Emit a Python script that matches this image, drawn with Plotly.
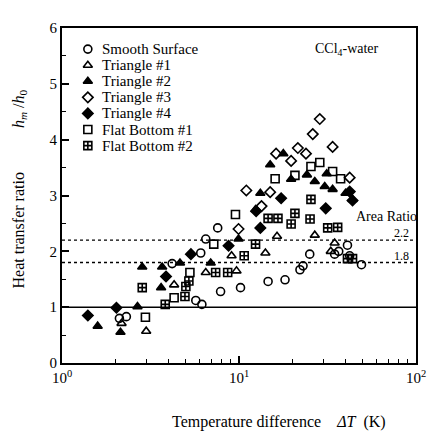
import plotly.graph_objects as go

# ---- data ----
smooth_x = [2.11, 2.31, 5.70, 6.17, 4.19, 6.08, 6.49, 7.58, 7.87, 10.2, 14.6, 18.2, 22.1, 23.0, 25.1, 34.7, 36.6, 41.0, 42.2, 49.2]
smooth_y = [0.80, 0.83, 1.12, 1.05, 1.78, 1.97, 2.22, 2.42, 1.28, 1.35, 1.46, 1.49, 1.67, 1.74, 1.95, 1.95, 2.00, 2.11, 1.92, 1.76]

tri1_x = [2.17, 2.99, 4.30, 6.49, 9.08, 9.68, 14.1, 16.4, 26.8, 34.7, 33.0]
tri1_y = [0.71, 0.57, 1.40, 1.62, 1.92, 1.65, 1.97, 2.27, 2.29, 2.15, 2.00]

tri2_x = [1.59, 2.14, 2.67, 3.63, 2.84, 3.68, 4.64, 6.92, 9.94, 12.4, 13.2, 15.0, 17.8, 19.7, 24.2, 26.8, 30.5, 33.8, 31.3, 40.0, 43.8]
tri2_y = [0.66, 0.55, 1.01, 1.35, 1.72, 1.72, 1.79, 1.79, 2.22, 2.75, 3.04, 3.55, 3.75, 3.29, 3.37, 3.25, 3.16, 3.11, 3.39, 3.04, 2.93]

tri3_x = [28.6, 26.1, 33.8, 21.5, 23.9, 19.7, 16.2, 11.0, 15.0, 13.4, 42.2, 9.94]
tri3_y = [4.37, 4.10, 3.87, 3.85, 3.75, 3.62, 3.75, 3.09, 3.06, 2.81, 3.32, 2.40]

tri4_x = [1.40, 2.03, 3.87, 5.35, 8.73, 13.2, 12.5, 17.3, 30.9, 42.2, 43.8]
tri4_y = [0.85, 0.99, 1.55, 1.95, 2.10, 2.42, 2.72, 2.95, 2.77, 3.07, 2.91]

fb1_x = [2.96, 4.30, 5.28, 7.20, 9.55, 16.0, 20.7, 25.5, 28.6, 33.8, 37.5]
fb1_y = [0.82, 1.17, 1.62, 2.13, 2.66, 3.30, 3.36, 3.52, 3.59, 3.43, 3.30]

fb2_x = [2.84, 3.83, 4.95, 5.01, 5.21, 7.38, 8.63, 10.7, 12.4, 14.6, 16.6, 20.7, 25.5, 19.7, 25.2, 31.7, 36.1, 41.0, 43.8]
fb2_y = [1.35, 1.05, 1.19, 1.37, 1.47, 1.62, 1.62, 1.92, 2.13, 2.59, 2.59, 2.68, 2.93, 2.49, 2.58, 2.42, 2.43, 1.87, 1.87]

series_names = ["Smooth Surface", "Triangle #1", "Triangle #2", "Triangle #3",
                "Triangle #4", "Flat Bottom #1", "Flat Bottom #2"]
series_symbols = ["circle-open", "triangle-up-open", "triangle-up", "diamond-open",
                  "diamond", "square-open", "square-cross-open"]
series_data = [(smooth_x, smooth_y), (tri1_x, tri1_y), (tri2_x, tri2_y), (tri3_x, tri3_y),
               (tri4_x, tri4_y), (fb1_x, fb1_y), (fb2_x, fb2_y)]

area_ratios = [2.2, 1.8]
x_tickvals = [1, 10, 100]
x_ticktext = ["10<sup>0</sup>", "10<sup>1</sup>", "10<sup>2</sup>"]
x_minor = [2, 3, 4, 5, 6, 7, 8, 9, 20, 30, 40, 50, 60, 70, 80, 90]

FONT = "Liberation Serif"
NB = "\u00a0"
fig = go.Figure()

for (xs, ys), name, sym in zip(series_data, series_names, series_symbols):
    fig.add_trace(go.Scatter(
        x=xs, y=ys, mode="markers", name=name, showlegend=False,
        marker=dict(symbol=sym, size=8, color="black",
                    line=dict(color="black", width=1.6)),
    ))

# custom legend on an overlay axis (0..1 fraction of plot area)
leg_top = 0.937
leg_step = 0.048
for i, (name, sym) in enumerate(zip(series_names, series_symbols)):
    yy = leg_top - i * leg_step
    fig.add_trace(go.Scatter(
        x=[0.073], y=[yy], xaxis="x2", yaxis="y2", mode="markers",
        showlegend=False, hoverinfo="skip",
        marker=dict(symbol=sym, size=8, color="black",
                    line=dict(color="black", width=1.6)),
    ))
    fig.add_annotation(x=0.106, y=yy, xref="x2", yref="y2", text=name,
                       showarrow=False, xanchor="left", yanchor="middle",
                       font=dict(family=FONT, size=15, color="black"))

# reference lines
fig.add_shape(type="line", xref="paper", yref="y", x0=0, x1=1, y0=1, y1=1,
              line=dict(color="black", width=1.5))
for r in area_ratios:
    fig.add_shape(type="line", xref="paper", yref="y", x0=0, x1=1, y0=r, y1=r,
                  line=dict(color="black", width=1.4, dash="dot"))
    fig.add_annotation(x=0.96, y=r, xref="paper", yref="y", text=f"{r}",
                       showarrow=False, xanchor="center", yanchor="bottom",
                       yshift=-2, font=dict(family=FONT, size=12, color="black"))

fig.add_annotation(x=1, y=2.63, xref="paper", yref="y", text="Area Ratio",
                   showarrow=False, xanchor="right", yanchor="middle", xshift=3,
                   font=dict(family=FONT, size=14, color="black"))
fig.add_annotation(x=0.805, y=0.935, xref="paper", yref="paper",
                   text="CCl<sub>4</sub>-water", showarrow=False,
                   xanchor="center", yanchor="middle",
                   font=dict(family=FONT, size=14, color="black"))

# axis titles
fig.add_annotation(x=0, y=0.5, xref="paper", yref="paper", xshift=-43, yshift=6,
                   text="Heat transfer ratio" + NB * 11
                        + "<i>h</i><sub><i>m</i></sub> /<i>h</i><sub>0</sub>",
                   textangle=-90, showarrow=False, xanchor="center", yanchor="middle",
                   font=dict(family=FONT, size=16, color="black"))
fig.add_annotation(x=0.5, y=0, xref="paper", yref="paper", yshift=-59, xshift=40,
                   text="Temperature difference" + NB * 4 + "<i>ΔT</i>" + NB * 2 + "(K)",
                   showarrow=False, xanchor="center", yanchor="middle",
                   font=dict(family=FONT, size=16, color="black"))

fig.update_layout(
    width=430, height=425,
    margin=dict(l=54, r=19, t=17, b=70),
    paper_bgcolor="white", plot_bgcolor="white",
    font=dict(family=FONT, size=15, color="black"),
    xaxis=dict(type="log", range=[0, 2], tickvals=x_tickvals, ticktext=x_ticktext,
               ticks="inside", ticklen=7, tickwidth=1.5, tickcolor="black",
               showline=True, linecolor="black", linewidth=2, mirror=True,
               showgrid=False, zeroline=False,
               minor=dict(tickvals=x_minor, ticks="inside", ticklen=4,
                          tickwidth=1.3, tickcolor="black", showgrid=False),
               tickfont=dict(family=FONT, size=15)),
    yaxis=dict(range=[0, 6], tickvals=[0, 1, 2, 3, 4, 5, 6],
               ticks="inside", ticklen=7, tickwidth=1.5, tickcolor="black",
               showline=True, linecolor="black", linewidth=2, mirror=True,
               showgrid=False, zeroline=False,
               minor=dict(dtick=0.5, ticks="inside", ticklen=4, tickwidth=1.3,
                          tickcolor="black", showgrid=False),
               tickfont=dict(family=FONT, size=15)),
    xaxis2=dict(overlaying="x", range=[0, 1], visible=False, fixedrange=True),
    yaxis2=dict(overlaying="y", range=[0, 1], visible=False, fixedrange=True),
)

fig.write_html("out.html")
